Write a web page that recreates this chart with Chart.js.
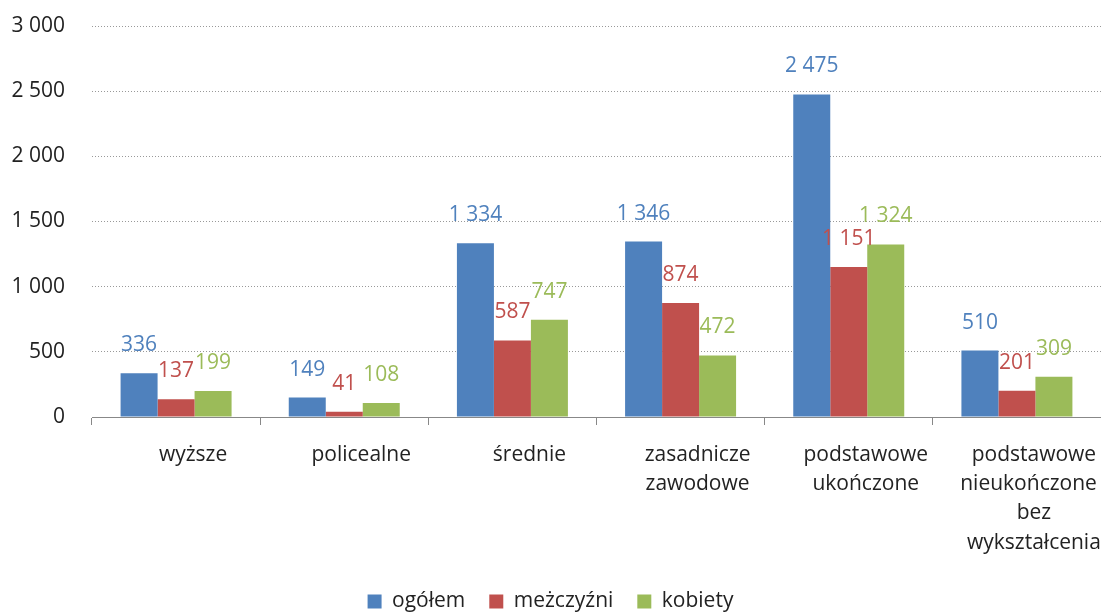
<!DOCTYPE html>
<html>
<head>
<meta charset="utf-8">
<script src="https://cdn.jsdelivr.net/npm/chart.js@4/dist/chart.umd.min.js"></script>
<style>
  html, body { margin: 0; padding: 0; background: #fff; }
  #wrap { width: 1101px; height: 612px; }
</style>
</head>
<body>
<div id="wrap"><canvas id="chart" width="1101" height="612"></canvas></div>
<script>
// ===== DATA =====
const categories = [
    'wyższe',
    'policealne',
    'średnie',
    ['zasadnicze', 'zawodowe'],
    ['podstawowe', 'ukończone'],
    ['podstawowe', 'nieukończone i', 'bez', 'wykształcenia']
];
const seriesNames = ['ogółem', 'meżczyźni', 'kobiety'];
const ogolem = [336, 149, 1334, 1346, 2475, 510];
const mezczyzni = [137, 41, 587, 874, 1151, 201];
const kobiety = [199, 108, 747, 472, 1324, 309];
const yTicks = [0, 500, 1000, 1500, 2000, 2500, 3000];

const colors = ['#4F81BD', '#C0504D', '#9BBB59'];
const FONT = '"Open Sans", Lato, sans-serif';

/** Format numbers with a space as thousands separator */
function fmt(v) {
    return String(v).replace(/\B(?=(\d{3})+(?!\d))/g, ' ');
}

/** Draw value labels above each bar, in the series colour */
const valueLabels = {
    id: 'valueLabels',
    afterDatasetsDraw(chart) {
        const ctx = chart.ctx;
        ctx.save();
        ctx.font = '21px ' + FONT;
        ctx.textAlign = 'center';
        ctx.textBaseline = 'middle';
        chart.data.datasets.forEach((ds, i) => {
            const meta = chart.getDatasetMeta(i);
            ctx.fillStyle = ds.backgroundColor;
            meta.data.forEach((bar, j) => {
                ctx.fillText(fmt(ds.data[j]), bar.x, bar.y - 28);
            });
        });
        ctx.restore();
    }
};

new Chart(document.getElementById('chart'), {
    type: 'bar',
    data: {
        labels: categories,
        datasets: [ogolem, mezczyzni, kobiety].map((d, i) => ({
            label: seriesNames[i],
            data: d,
            backgroundColor: colors[i],
            borderWidth: 0,
            categoryPercentage: 0.66,
            barPercentage: 1
        }))
    },
    options: {
        responsive: false,
        animation: false,
        layout: { padding: { top: 0, right: 0, left: 0, bottom: -10 } },
        plugins: {
            tooltip: { enabled: false },
            legend: {
                position: 'bottom',
                labels: {
                    color: '#222',
                    font: { family: FONT, size: 21 },
                    boxWidth: 14, boxHeight: 14,
                    padding: 24
                }
            }
        },
        scales: {
            x: {
                grid: { drawOnChartArea: false, drawTicks: true, tickLength: 8, color: '#888', offset: true },
                border: { display: true, color: '#888' },
                ticks: {
                    color: '#222',
                    font: { family: FONT, size: 21, lineHeight: 1.4 },
                    padding: 15,
                    labelOffset: 17,
                    maxRotation: 0,
                    autoSkip: false
                },
                afterFit(scale) {
                    scale.height = 150;
                    scale.paddingLeft = 0;
                    scale.paddingRight = 0;
                }
            },
            y: {
                min: 0, max: 3000,
                afterBuildTicks(scale) { scale.ticks = yTicks.map(v => ({ value: v })); },
                grid: { color: '#999', drawTicks: false, lineWidth: 1 },
                border: { display: false, dash: [1, 2] },
                ticks: {
                    color: '#222',
                    font: { family: FONT, size: 21 },
                    padding: 27,
                    callback: (v) => fmt(v)
                },
                afterFit(scale) {
                    scale.width = 92;
                    scale.paddingTop = 26;
                    scale.paddingBottom = 0;
                }
            }
        }
    },
    plugins: [valueLabels]
});
</script>
</body>
</html>
